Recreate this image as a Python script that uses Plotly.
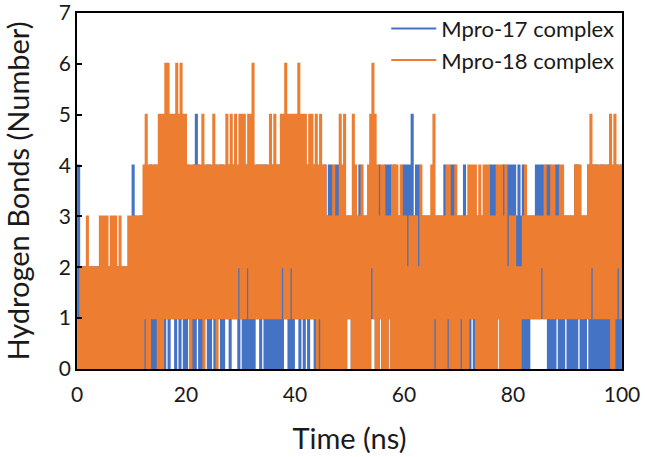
import plotly.graph_objects as go

# Hydrogen-bond counts, one string per 10-ns window.
# Each window holds 50 frames (one every 0.2 ns), written as low/high pairs.
mpro17_blocks = [
    "14 12 12 02 12 12 02 12 02 12 12 02 12 12 02 12 02 12 12 02 12 02 12 02 12",  # 0-10 ns
    "14 13 02 13 03 13 04 13 14 03 04 03 14 14 13 04 14 03 14 13 04 14 03 14 04",  # 10-20 ns
    "04 13 03 04 05 14 03 04 13 14 04 03 14 04 13 14 04 03 14 14 03 14 13 13 03",  # 20-30 ns
    "14 04 04 04 03 04 03 14 14 04 14 04 03 04 04 03 04 04 03 04 14 14 04 03 04",  # 30-40 ns
    "14 14 04 13 04 14 04 13 14 04 03 04 03 14 03 04 04 03 04 04 03 13 03 03 13",  # 40-50 ns
    "13 03 03 03 04 03 03 13 03 04 14 13 03 04 13 03 04 04 14 03 04 03 03 03 04",  # 50-60 ns
    "04 24 04 05 03 04 24 03 03 13 03 03 03 03 03 13 03 03 04 03 03 04 04 03 13",  # 60-70 ns
    "03 03 04 03 03 03 13 03 03 03 13 03 03 03 04 04 04 03 13 03 04 03 24 04 04",  # 70-80 ns
    "04 23 24 23 04 03 03 03 13 13 14 14 14 14 13 14 04 03 03 04 14 03 03 03 13",  # 80-90 ns
    "03 03 03 04 04 13 03 03 03 14 04 04 04 04 03 04 04 03 04 04 13 14 04 03 04",  # 90-100 ns
]
mpro17_last = 4

mpro18_blocks = [
    "01 02 02 02 03 02 02 02 02 02 03 03 03 03 02 03 03 03 02 03 02 02 02 03 03",  # 0-10 ns
    "03 03 03 03 03 04 15 04 04 14 14 14 05 05 05 16 16 15 15 15 16 15 16 15 15",  # 10-20 ns
    "14 14 04 14 14 14 14 15 04 14 14 14 15 14 04 14 14 14 15 14 15 14 15 14 25",  # 20-30 ns
    "15 15 14 25 15 16 14 14 14 14 14 14 14 15 14 15 14 14 15 25 16 15 15 25 15",  # 30-40 ns
    "15 16 15 15 15 14 15 15 14 15 04 15 04 04 03 03 03 04 03 03 05 04 05 03 13",  # 40-50 ns
    "13 05 04 03 03 04 03 03 04 05 26 15 04 03 14 04 03 03 13 04 04 04 03 04 03",  # 50-60 ns
    "03 02 03 03 03 03 02 04 03 03 03 03 04 05 13 03 03 03 03 04 14 03 03 04 03",  # 60-70 ns
    "03 13 03 03 04 14 14 14 03 04 03 04 04 04 03 03 03 04 14 04 03 04 02 03 03",  # 70-80 ns
    "03 02 02 02 13 14 13 13 13 13 13 13 13 23 14 13 13 14 14 13 13 14 14 13 13",  # 80-90 ns
    "13 13 13 14 14 14 13 13 13 14 15 24 14 14 14 14 14 14 14 15 04 05 14 24 14",  # 90-100 ns
]
mpro18_last = 4

series_names = ["Mpro-17 complex", "Mpro-18 complex"]
series_colors = ["#4472C4", "#ED7D31"]
block_ns = 10.0
x_ticks = [0, 20, 40, 60, 80, 100]
y_ticks = [0, 1, 2, 3, 4, 5, 6, 7]


def expand(blocks, last):
    xs, ys = [], []
    for b, s in enumerate(blocks):
        vals = [int(c) for c in s.replace(" ", "")]
        n = len(vals)
        for j, v in enumerate(vals):
            xs.append(b * block_ns + block_ns * j / n)
            ys.append(v)
    xs.append(len(blocks) * block_ns)
    ys.append(last)
    return xs, ys


fig = go.Figure()
for blocks, last, name, color in [
    (mpro17_blocks, mpro17_last, series_names[0], series_colors[0]),
    (mpro18_blocks, mpro18_last, series_names[1], series_colors[1]),
]:
    xs, ys = expand(blocks, last)
    fig.add_trace(go.Scatter(
        x=xs, y=ys, mode="lines", name=name,
        line=dict(color=color, width=2, shape="hv"),
        hoverinfo="skip",
    ))

font_family = "Lato, 'Open Sans', sans-serif"
text_color = "#1a1a1a"
fig.update_layout(
    template="none",
    width=645, height=457,
    margin=dict(l=77, r=23, t=13, b=88, autoexpand=False),
    paper_bgcolor="white", plot_bgcolor="white",
    font=dict(family=font_family, color=text_color, size=21),
    showlegend=True,
    legend=dict(
        x=0.995, xanchor="right", y=1.015, yanchor="top",
        bgcolor="rgba(0,0,0,0)", borderwidth=0,
        font=dict(size=22, family=font_family, color=text_color),
        itemwidth=45, tracegroupgap=0,
    ),
)
fig.update_xaxes(
    range=[0, 100], tickvals=x_ticks, ticktext=[str(v) for v in x_ticks],
    automargin=False, ticklabeloverflow="allow",
    showgrid=False, zeroline=False,
    showline=True, mirror=True, linecolor="black", linewidth=1.5,
    ticks="", layer="below traces",
    ticklabelstandoff=6,
    tickfont=dict(size=21, color=text_color),
    title=dict(text="Time (ns)", font=dict(size=29, color=text_color), standoff=24),
)
fig.update_yaxes(
    range=[0, 7], tickvals=y_ticks, ticktext=[str(v) for v in y_ticks],
    automargin=False, ticklabeloverflow="allow",
    showgrid=False, zeroline=False,
    showline=True, mirror=True, linecolor="black", linewidth=1.5,
    ticks="inside", ticklen=5, tickcolor="black", tickwidth=1.5,
    tickfont=dict(size=21, color=text_color),
    title=dict(text="Hydrogen Bonds (Number)", font=dict(size=29, color=text_color), standoff=23),
)

fig.write_html(
    "out.html",
    config={"displayModeBar": False},
    post_script="document.body.style.margin='0';",
)
